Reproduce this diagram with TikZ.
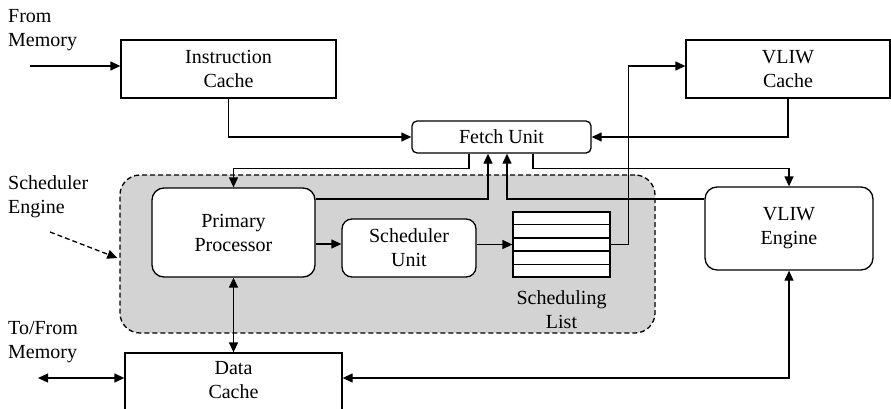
\documentclass[tikz,border=0pt]{standalone}
\usepackage{fontspec}
\setmainfont{Liberation Serif}
\usetikzlibrary{arrows.meta,calc}
\definecolor{segray}{RGB}{211,211,211}
\begin{document}
\begin{tikzpicture}[x=1pt,y=-1pt,
  txt/.style={font=\fontsize{20}{24}\selectfont, inner sep=0pt, align=center},
  box/.style={txt, draw, line width=1.3pt},
  rbox/.style={box, rounded corners=#1, fill=white},
  arr/.style={line width=1.3pt, -{Triangle[length=10pt,width=9pt]}},
  darr/.style={line width=1.3pt, {Triangle[length=10pt,width=9pt]}-{Triangle[length=10pt,width=9pt]}},
  lab/.style={txt, anchor=west, align=left}]
\useasboundingbox (0,0) rectangle (891,409);

% scheduler engine background
\node[draw, dashed, dash pattern=on 5pt off 3pt, line width=1.3pt, rounded corners=20pt,
      fill=segray, minimum width=535pt, minimum height=158pt, inner sep=0pt] (se) at (387.5,254) {};

% boxes
\node[box, minimum width=215pt, minimum height=58pt] (ic) at (228.5,69) {Instruction\\Cache};
\node[rbox=5pt, minimum width=179pt, minimum height=32pt] (fetch) at (501.5,137) {Fetch Unit};
\node[box, minimum width=204pt, minimum height=58pt] (vc) at (788,69) {VLIW\\Cache};
\node[rbox=12pt, minimum width=163pt, minimum height=89pt] (pp) at (233.5,232.5) {Primary\\Processor};
\node[rbox=10pt, minimum width=134pt, minimum height=58pt] (su) at (409,248) {Scheduler\\Unit};
\node[box, fill=white, minimum width=97pt, minimum height=65pt] (sl) at (561.5,244.5) {};
\foreach \i in {1,2,3,4}
  \draw[line width=1.3pt] ($(sl.north west)!\i/5!(sl.south west)$) -- ($(sl.north east)!\i/5!(sl.south east)$);
\node[txt] (sllab) at (561.5,310) {Scheduling\\List};
\node[rbox=12pt, minimum width=168pt, minimum height=83pt] (ve) at (789,228.5) {VLIW\\Engine};
\node[box, fill=white, minimum width=217pt, minimum height=80pt] (dcbox) at (233.5,393) {};
\node[txt] (dc) at (233.5,380.5) {Data\\Cache};

% labels
\node[lab] (fromm) at (8,30) {From\\Memory};
\node[lab] (sel) at (8,197) {Scheduler\\Engine};
\node[lab] (tfml) at (8,342) {To/From\\Memory};

% connectors
\coordinate (fm) at (30,66);
\draw[arr] (fm) -- (fm -| ic.west);
\draw[arr] (ic.south) |- (fetch.west);
\draw[arr] (vc.south) |- (fetch.east);
\draw[arr] ([xshift=-32.5pt]fetch.south) -- ++(0,15) -| (pp.north);
\draw[arr] ([xshift=31.5pt]fetch.south) -- ++(0,15) -| (ve.north);
\draw[arr] ($(pp.east)+(0,-33.5)$) -| ([xshift=-13.5pt]fetch.south);
\draw[arr] ($(ve.west)+(0,-29.5)$) -| ([xshift=5.5pt]fetch.south);
\draw[arr] ($(pp.east)+(0,11.5)$) coordinate (p1) -- (p1 -| su.west);
\draw[arr] (su.east |- sl.west) -- (sl.west);
\draw[arr] (sl.east) -- ++(18,0) |- ($(vc.west)+(0,-3)$);
\draw[darr] (pp.south) -- (dcbox.north);
\draw[darr] (ve.south) |- ($(dcbox.east)+(0,-15)$);
\coordinate (tfm) at (38,378);
\draw[darr] (tfm) -- (tfm -| dcbox.west);
\coordinate (sea) at (50,232);
\draw[arr, dashed, dash pattern=on 5pt off 3pt] (sea) -- ($(se.west)+(-2,4)$);
\end{tikzpicture}
\end{document}
